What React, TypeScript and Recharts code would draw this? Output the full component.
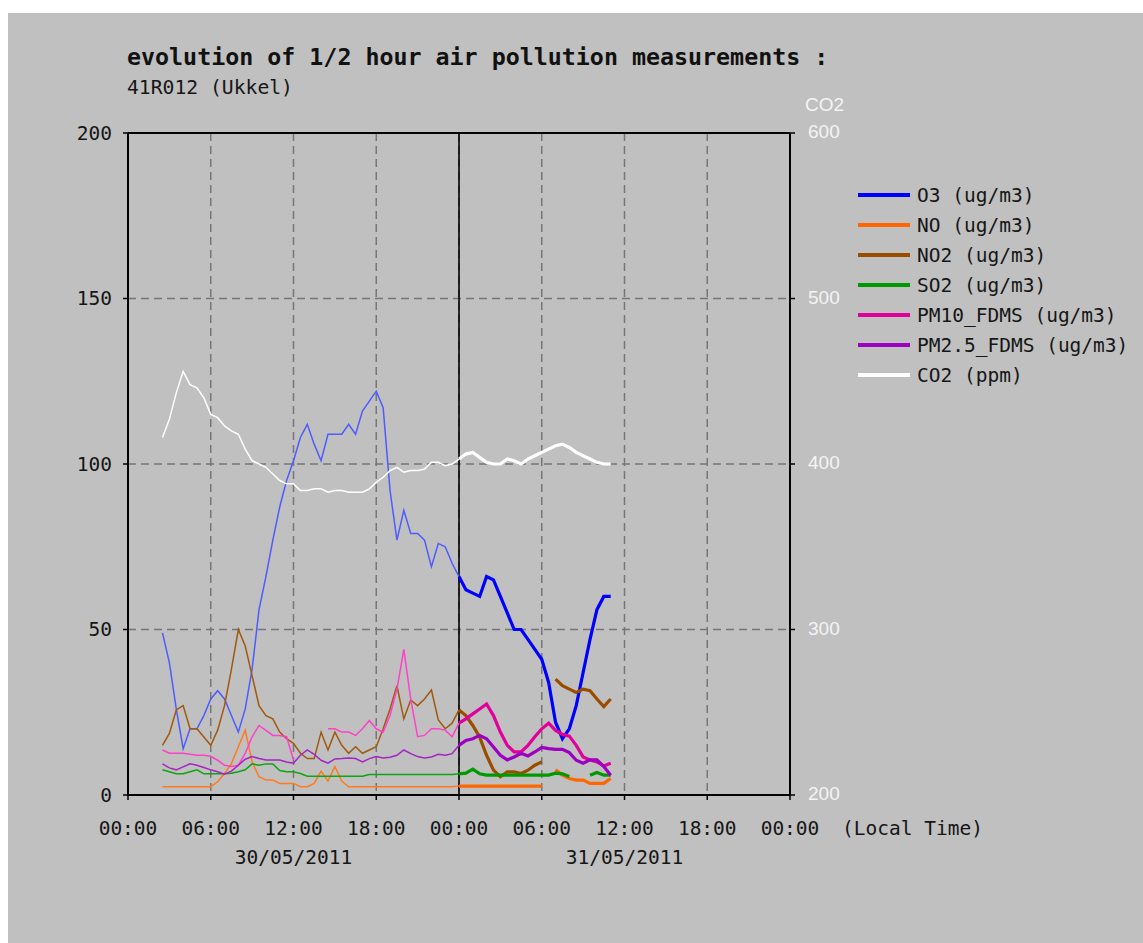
import React from "react";
import {
  CartesianGrid,
  Legend,
  Line,
  LineChart,
  ReferenceLine,
  XAxis,
  YAxis,
} from "recharts";

const MONO = "'DejaVu Sans Mono', monospace";
const SANS = "'Liberation Sans', Arial, sans-serif";

// half-hour samples, in hours counted from 00:00 on 30/05/2011
const hours = [
  2.5, 3, 3.5, 4, 4.5, 5, 5.5,
  6, 6.5, 7, 7.5, 8, 8.5, 9, 9.5, 10, 10.5, 11, 11.5,
  12, 12.5, 13, 13.5, 14, 14.5, 15, 15.5, 16, 16.5, 17, 17.5,
  18, 18.5, 19, 19.5, 20, 20.5, 21, 21.5, 22, 22.5, 23, 23.5,
  24, 24.5, 25, 25.5, 26, 26.5, 27, 27.5, 28, 28.5, 29, 29.5,
  30, 30.5, 31, 31.5, 32, 32.5, 33, 33.5, 34, 34.5, 35,
];

const o3 = [
  49, 40, 26, 14, 20, 20, 24,
  29, 31.5, 29, 24, 19, 26, 38, 56, 66, 77, 87, 95,
  101, 108, 112, 106, 101, 109, 109, 109, 112, 109, 116, 119,
  122, 117, 92, 77, 86, 79, 79, 77, 69, 76, 75, 70,
  66, 62, 61, 60, 66, 65, 60, 55, 50, 50, 47, 44,
  41, 34, 22, 17, 20, 27, 37, 47, 56, 60, 60,
];
const no = [
  2.5, 2.5, 2.5, 2.5, 2.5, 2.5, 2.5,
  2.5, 4, 6.5, 9.5, 14.6, 19.6, 10, 5.5, 4.5, 4.5, 3.5, 3.5,
  3.5, 2.5, 2.5, 3.5, 7.2, 4.2, 8.6, 4.2, 2.5, 2.5, 2.5, 2.5,
  2.5, 2.5, 2.5, 2.5, 2.5, 2.5, 2.5, 2.5, 2.5, 2.5, 2.5, 2.5,
  2.7, 2.7, 2.7, 2.7, 2.7, 2.7, 2.7, 2.7, 2.7, 2.7, 2.7, 2.7,
  2.7, null, 7.6, 6, 5, 4.5, 4.5, 3.5, 3.5, 3.5, 5,
];
const no2 = [
  15, 18.6, 25.7, 27, 20, 20, 17.5,
  15, 19.6, 27, 38, 50, 45, 36, 27, 24, 23, 19, 17,
  15.6, 12.6, 11, 11, 19, 13.6, 19, 15, 12.6, 14.6, 12.6, 13.6,
  14.6, 20, 26, 33, 23, 28.7, 27, 29, 31.7, 22.7, 20, 21.7,
  25.7, 24, 21, 17.5, 12, 7.5, 5.5, 7, 7, 6.5, 7.5, 9,
  10, null, 35, 33, 32, 31, 32, 31.5, 29, 26.7, 29,
];
const so2 = [
  7.6, 7, 6.4, 6.4, 7, 7.6, 6.4,
  6.4, 6.4, 6.4, 6.6, 7, 7.6, 9.4, 9, 9.4, 9.4, 7.4, 7,
  7, 6.5, 5.7, 5.7, 5.7, 5.7, 5.7, 5.7, 5.7, 5.7, 5.7, 6.2,
  6.2, 6.2, 6.2, 6.2, 6.2, 6.2, 6.2, 6.2, 6.2, 6.2, 6.2, 6.2,
  6.4, 6.6, 7.8, 6.4, 6, 6, 6, 6, 6, 6, 6, 6,
  6, 6, 6.6, 6.4, 5.6, null, null, 6, 6.8, 6, 6,
];
const pm10 = [
  13.6, 12.6, 12.6, 12.6, 12.3, 12, 12,
  11.7, 10.5, 9, 8.6, 9, 12.6, 17.6, 21, 19.5, 18, 18, 17.6,
  10.6, null, null, null, null, 20, 20, 19, 19, 18, 20, 22.5,
  20, 19, 24, 32, 44, 29, 17.6, 18, 20, 20, 19.6, 17.6,
  21.7, 23, 24.5, 26, 27.5, 24, 19, 15, 13, 13, 15, 17.6,
  20, 21.7, 19.5, 18.3, 17.8, 15, 11.5, 10.6, 10, 8.8, 9.6,
];
const pm25 = [
  9.4, 8.2, 7.6, 8.5, 9.4, 9, 8.3,
  7.6, 7, 6.3, 7.2, 9, 10.8, 11.6, 11, 10.6, 10.6, 10.6, 10,
  9.6, 12, 13.6, 12.3, 10.5, 9.6, 10.9, 11, 11.2, 11, 10, 11,
  11.6, 11.2, 11.4, 12, 13.6, 12.5, 11.6, 11.2, 11.5, 12.3, 12, 12.5,
  15, 16.5, 17, 18, 17, 14.5, 12, 10.6, 11.5, 12.6, 11.8, 13,
  14.4, 14, 13.8, 13.8, 12.8, 10.5, 9.6, 10.6, 10.6, 8.6, 6,
];
const co2 = [
  416, 427, 443, 456, 448, 446, 440,
  430, 428, 423, 420, 418, 409, 402, 400, 398, 394, 390, 388,
  388, 384, 384, 385, 385, 383, 384, 384, 383, 383, 383, 385,
  389, 392, 396, 398, 395, 396, 396, 397, 401, 401, 399, 400,
  403, 406, 407, 404, 401, 400, 400, 403, 402, 400, 403, 405,
  407, 409, 411, 412, 410, 407, 405, 403, 401, 400, 400,
];

const xTicks = [0, 6, 12, 18, 24, 30, 36, 42, 48];
const xTickLabels = ["00:00", "06:00", "12:00", "18:00", "00:00", "06:00", "12:00", "18:00", "00:00"];
const dateTicks = [12, 36];
const dateLabels = ["30/05/2011", "31/05/2011"];
const leftTicks = [0, 50, 100, 150, 200];
const rightTicks = [200, 300, 400, 500, 600];
const dayBreak = 24;

// thin = first day (validated), thick = second day
const SERIES = [
  { key: "o3", name: "O3 (ug/m3)", values: o3, color: "#0000ff", light: "#4d5cff", axis: "left" },
  { key: "no", name: "NO (ug/m3)", values: no, color: "#ff6600", light: "#ff7a1e", axis: "left" },
  { key: "no2", name: "NO2 (ug/m3)", values: no2, color: "#9a4c00", light: "#a2580e", axis: "left" },
  { key: "so2", name: "SO2 (ug/m3)", values: so2, color: "#009a00", light: "#10a410", axis: "left" },
  { key: "pm10", name: "PM10_FDMS (ug/m3)", values: pm10, color: "#e0009c", light: "#ff40c8", axis: "left" },
  { key: "pm25", name: "PM2.5_FDMS (ug/m3)", values: pm25, color: "#9c00c0", light: "#a424c4", axis: "left" },
  { key: "co2", name: "CO2 (ppm)", values: co2, color: "#ffffff", light: "#ffffff", axis: "co2" },
];

const rows = hours.map((h, i) => {
  const row: Record<string, number | null> = { hour: h };
  SERIES.forEach((s) => {
    row[s.key + "1"] = h <= dayBreak ? s.values[i] : null;
    row[s.key + "2"] = h >= dayBreak ? s.values[i] : null;
  });
  return row;
});

function TimeTick(props: any) {
  const { x, y, index, payload } = props;
  const di = dateTicks.indexOf(payload.value);
  return (
    <g>
      <text x={x} y={y + 29} textAnchor="middle" dominantBaseline="middle"
        fontFamily={MONO} fontSize={19.5} fill="#161616">
        {xTickLabels[index]}
      </text>
      {di >= 0 && (
        <text x={x} y={y + 58} textAnchor="middle" dominantBaseline="middle"
          fontFamily={MONO} fontSize={19.5} fill="#161616">
          {dateLabels[di]}
        </text>
      )}
      {index === xTicks.length - 1 && (
        <text x={x + 52} y={y + 29} textAnchor="start" dominantBaseline="middle"
          fontFamily={MONO} fontSize={19.5} fill="#161616">
          (Local Time)
        </text>
      )}
    </g>
  );
}

function Co2Tick(props: any) {
  const { x, y, payload } = props;
  return (
    <g>
      <text x={x} y={y} textAnchor="start" dominantBaseline="middle"
        fontFamily={SANS} fontSize={19} fill="#f4f4f4">
        {payload.value}
      </text>
      {payload.value === 600 && (
        <text x={x - 3} y={y - 27} textAnchor="start" dominantBaseline="middle"
          fontFamily={SANS} fontSize={19} fill="#f4f4f4">
          CO2
        </text>
      )}
    </g>
  );
}

function LegendBox() {
  return (
    <div style={{ fontFamily: MONO, fontSize: 19.5, color: "#161616" }}>
      {SERIES.map((s) => (
        <div key={s.key} style={{ height: 30, display: "flex", alignItems: "center" }}>
          <span style={{ display: "inline-block", width: 52, height: 4, background: s.color, marginRight: 7 }} />
          <span style={{ whiteSpace: "pre" }}>{s.name}</span>
        </div>
      ))}
    </div>
  );
}

export default function App() {
  return (
    <div style={{ position: "absolute", left: 0, top: 0, width: 1143, height: 943, background: "#ffffff" }}>
      <div style={{ position: "absolute", left: 8, top: 13, width: 1135, height: 930, background: "#c0c0c0" }} />
      <div style={{ position: "absolute", left: 127, top: 45, fontFamily: MONO, fontSize: 23.3, fontWeight: "bold", lineHeight: "24px", color: "#111", whiteSpace: "pre" }}>
        evolution of 1/2 hour air pollution measurements :
      </div>
      <div style={{ position: "absolute", left: 127, top: 76, fontFamily: MONO, fontSize: 19.7, lineHeight: "24px", color: "#161616", whiteSpace: "pre" }}>
        41R012 (Ukkel)
      </div>
      <div style={{ position: "absolute", left: 0, top: 0 }}>
        <LineChart width={1143} height={943} data={rows}
          margin={{ top: 133, right: 0, bottom: 88, left: 0 }}>
          <CartesianGrid yAxisId="left" stroke="#767676" strokeWidth={1.5} strokeDasharray="8 5" />
          <XAxis type="number" dataKey="hour" domain={[0, 48]} ticks={xTicks} interval={0}
            allowDataOverflow height={60} tickSize={5} tickMargin={0}
            axisLine={{ stroke: "#000", strokeWidth: 2 }} tickLine={{ stroke: "#000", strokeWidth: 1.5 }}
            tick={<TimeTick />} />
          <YAxis yAxisId="left" domain={[0, 200]} ticks={leftTicks} interval={0} allowDataOverflow
            width={128} tickSize={5} tickMargin={11}
            axisLine={{ stroke: "#000", strokeWidth: 2 }} tickLine={{ stroke: "#000", strokeWidth: 1.5 }}
            tick={{ fill: "#161616", fontFamily: MONO, fontSize: 19.5 }} />
          <YAxis yAxisId="co2" orientation="right" domain={[200, 600]} ticks={rightTicks} interval={0}
            allowDataOverflow width={353} tickSize={5} tickMargin={13}
            axisLine={{ stroke: "#000", strokeWidth: 2 }} tickLine={{ stroke: "#000", strokeWidth: 1.5 }}
            tick={<Co2Tick />} />
          <ReferenceLine yAxisId="left" y={200} stroke="#000" strokeWidth={2} />
          <ReferenceLine yAxisId="left" x={dayBreak} stroke="#000" strokeWidth={1.6} />
          {SERIES.map((s) => (
            <Line key={s.key + "1"} yAxisId={s.axis} type="linear" dataKey={s.key + "1"}
              stroke={s.light} strokeWidth={1.5} dot={false} activeDot={false}
              isAnimationActive={false} legendType="none" />
          ))}
          {SERIES.map((s) => (
            <Line key={s.key + "2"} yAxisId={s.axis} type="linear" dataKey={s.key + "2"} name={s.name}
              stroke={s.color} strokeWidth={3.2} dot={false} activeDot={false}
              isAnimationActive={false} />
          ))}
          <Legend layout="vertical" align="center" verticalAlign="middle"
            wrapperStyle={{ left: 858, top: 180, width: 285, height: 212 }}
            content={() => <LegendBox />} />
        </LineChart>
      </div>
    </div>
  );
}
